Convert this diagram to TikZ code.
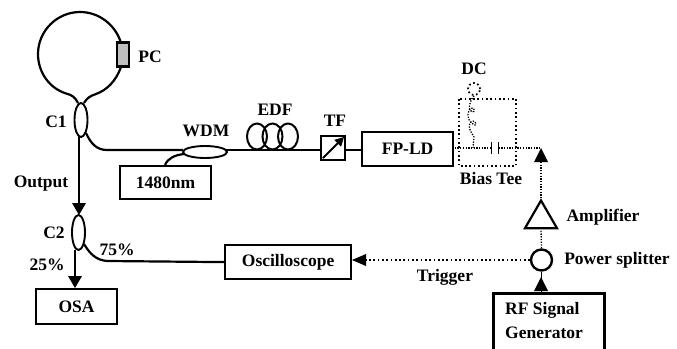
\documentclass[tikz,border=0pt]{standalone}
\usepackage{fontspec}
\setmainfont{Liberation Serif}
\usetikzlibrary{arrows.meta,calc,shapes.geometric}
\tikzset{
 lab/.style={font=\bfseries\fontsize{17.5}{20}\selectfont,inner sep=0pt},
 fiber/.style={line width=2.2pt},
 boxn/.style={draw,line width=2.2pt,inner sep=0pt,font=\bfseries\fontsize{17.5}{20}\selectfont,anchor=north west},
 coupler/.style={draw,line width=1.9pt,ellipse,inner sep=0pt},
 dots/.style={line width=1.7pt,dash pattern=on 1.7pt off 2.6pt},
 fine/.style={line width=1.3pt,dash pattern=on 1.3pt off 1.4pt},
 tip/.style={fill=black,draw=none},
}
\begin{document}
\begin{tikzpicture}[x=1pt,y=-1pt]
\useasboundingbox (0,0) rectangle (677,348);
% couplers
\node[coupler,minimum width=13pt,minimum height=34pt] (c1) at (81,120) {};
\node[coupler,minimum width=13pt,minimum height=35pt] (c2) at (78.5,232.5) {};
\node[coupler,minimum width=44pt,minimum height=12pt] (wdm) at (205,152) {};
% boxes
\node[boxn,minimum width=91pt,minimum height=33pt] (pump) at (119,165) {1480nm};
\node[boxn,minimum width=81pt,minimum height=35pt] (osa) at (35,288) {OSA};
\node[boxn,minimum width=126pt,minimum height=34pt] (osc) at (224,244) {Oscilloscope};
\node[boxn,minimum width=91pt,minimum height=34pt] (fp) at (361,131) {FP-LD};
\node[draw,line width=2.2pt,minimum size=24pt,inner sep=0pt] (tf) at (333,148) {};
\node[draw,line width=2.8pt,minimum width=111pt,minimum height=58pt,anchor=north west] (rf) at (492,292) {};
\node[draw,line width=2.2pt,fill=black!25,minimum width=12pt,minimum height=24pt,inner sep=0pt] (pc) at (123,54.5) {};
% loop
\coordinate (la) at (78,103);
\coordinate (lb) at (84,103);
\draw[fiber] (la) .. controls (75,97) and (72,95) .. (66,93.5)
  .. controls (49,88) and (38,72) .. (38,54)
  .. controls (38,31) and (57,12) .. (80,12)
  .. controls (100,12) and (116,26) .. (121,43);
\draw[fiber] (lb) .. controls (87,98) and (90,96) .. (96,94)
  .. controls (107,90) and (116,81) .. (121,67);
% fibres
\coordinate (j1) at (107,150);
\coordinate (j2) at (107,261);
\draw[fiber] (86,133) .. controls (91,144) and (97,150) .. (j1) -- (183,150);
\draw[fiber] (165,165) .. controls (168,158) and (175,155) .. (184,154);
\draw[fiber] (225,150) -- (tf.west |- j1);
\draw[fiber] (tf.east |- j1) -- (fp.west |- j1);
\draw[fiber] (84,244) .. controls (90,254) and (96,260) .. (j2) -- (osc.west);
\draw[fiber] (79,137) -- (79,205);
\fill[tip] (79,215) -- (72,203) -- (86,203) -- cycle;
\draw[fiber] (75,250) -- (75,278);
\fill[tip] (75,288) -- (68,276) -- (82,276) -- cycle;
% EDF
\foreach \x in {257,272.5,288}{\draw[line width=2pt] (\x,136.5) ellipse (10pt and 13pt);}
% TF arrow
\draw[line width=2pt,-{Triangle[length=9pt,width=9pt]}] (tf.south west) ++(3,-3) -- ($(tf.north east)+(-2,2)$);
% Bias tee
\draw[dots] (459,99) rectangle (516,166);
\node[draw,dots,circle,minimum size=12pt,inner sep=0pt] (dcn) at (474,89) {};
\coordinate (cl) at (491.5,148);
\coordinate (cr) at (498.5,148);
\coordinate (atip) at (541,148);
\draw[fine] (452,148) -- (cl);
\draw[fine] (cr) -- (atip);
\draw[line width=1.5pt] (cl) ++(0,-6) -- ++(0,12);
\draw[line width=1.5pt] (cr) ++(0,-6) -- ++(0,12);
\draw[fine] (dcn.south) .. controls (470,100) and (467,110) .. (472,112)
 .. controls (476,113) and (474,105) .. (470,109)
 .. controls (465,116) and (470,124) .. (475,125)
 .. controls (478,125) and (474,119) .. (471,122)
 .. controls (466,128) and (473,134) .. (474,137) -- (473,148);
\fill[tip] (atip) -- (534,162) -- (548,162) -- cycle;
% amplifier
\node[draw,line width=2.2pt,regular polygon,regular polygon sides=3,inner sep=0pt,minimum size=37pt] (amp) at (541,219) {};
\node[draw,line width=2.4pt,circle,minimum size=21pt,inner sep=0pt] (ps) at (541.5,260) {};
\draw[fine] (541,162) -- (amp.north);
\draw[fine] (ps.north) -- (541,230);
\draw[dots] (ps.west) -- (366,260);
\fill[tip] (352,260) -- (366,254) -- (366,266) -- cycle;
\draw[line width=1pt] (rf.north -| ps.south) -- (ps.south);
\fill[tip] (541,277) -- (534,291) -- (548,291) -- cycle;
% labels
\node[lab] (tpc) at (150,57) {PC};
\node[lab] (tc1) at (56,122) {C1};
\node[lab] (twdm) at (206,131) {WDM};
\node[lab] (tout) at (41,184) {Output};
\node[lab] (tc2) at (54,233) {C2};
\node[lab] (t25) at (47,265) {25\%};
\node[lab] (t75) at (117,250) {75\%};
\node[lab] (tedf) at (275,110) {EDF};
\node[lab] (ttf) at (335,121) {TF};
\node[lab] (tdc) at (474,69) {DC};
\node[lab] (tbt) at (491,179) {Bias Tee};
\node[lab] (tamp) at (603,217) {Amplifier};
\node[lab] (tps) at (617,260) {Power splitter};
\node[lab] (ttr) at (445,277) {Trigger};
\node[lab,anchor=west] (trf) at (505,310) {RF Signal};
\node[lab,anchor=west] (tgen) at (505,333) {Generator};
\end{tikzpicture}
\end{document}
